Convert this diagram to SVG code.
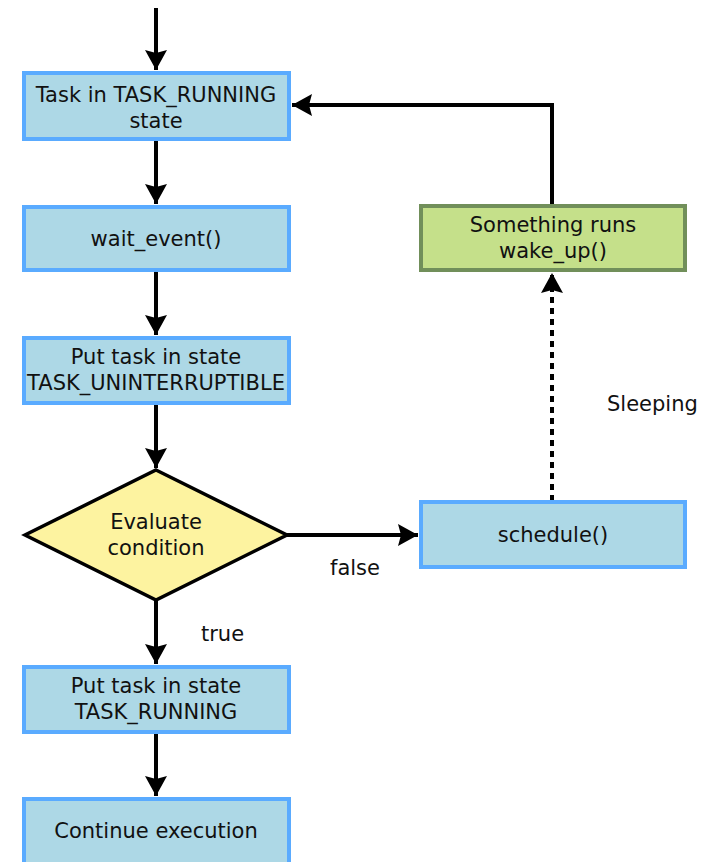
<svg xmlns="http://www.w3.org/2000/svg" width="708" height="862" viewBox="0 0 708 862">
<defs>
<style>
.box{fill:#add8e6;stroke:#5aabff;stroke-width:4}
.green{fill:#c5e08a;stroke:#718f5a;stroke-width:4}
.dia{fill:#fdf3a0;stroke:#000;stroke-width:3.5}
text{font-family:"DejaVu Sans",sans-serif;font-size:21px;fill:#111;text-anchor:middle}
.lbl{text-anchor:start}
.c{fill:none;stroke:#000;stroke-width:4}
.d{stroke-dasharray:6,5}
</style>
<marker id="ah" viewBox="0 0 10 11" refX="10" refY="5.5" markerWidth="5" markerHeight="5.5" markerUnits="strokeWidth" orient="auto">
<path d="M0,0 L10,5.5 L0,11 L1.5,5.5 Z" fill="#000"/>
</marker>
</defs>
<rect width="708" height="862" fill="#fff"/>
<g id="connectors">
<path class="c" d="M156,8 V70" marker-end="url(#ah)"/>
<path class="c" d="M156,140 V204" marker-end="url(#ah)"/>
<path class="c" d="M156,271 V335" marker-end="url(#ah)"/>
<path class="c" d="M156,404 V468" marker-end="url(#ah)"/>
<path class="c" d="M156,600 V664" marker-end="url(#ah)"/>
<path class="c" d="M156,733 V796" marker-end="url(#ah)"/>
<path class="c" d="M287,535 H418" marker-end="url(#ah)"/>
<path class="c d" d="M552,501 V273" marker-end="url(#ah)"/>
<path class="c" d="M552,205 V105 H292" marker-end="url(#ah)"/>
<text class="lbl" x="607" y="411">Sleeping</text>
<text class="lbl" x="330" y="575">false</text>
<text class="lbl" x="201" y="641">true</text>
</g>
<g id="n1"><rect class="box" x="24" y="73" width="265" height="66"/><text x="156" y="102">Task in TASK_RUNNING</text><text x="156" y="128">state</text></g>
<g id="n2"><rect class="box" x="24" y="207" width="265" height="63"/><text x="156" y="246">wait_event()</text></g>
<g id="n3"><rect class="box" x="24" y="338" width="265" height="65"/><text x="156" y="364">Put task in state</text><text x="156" y="390">TASK_UNINTERRUPTIBLE</text></g>
<g id="n4"><polygon class="dia" points="156,470 287,535 156,600 25,535"/><text x="156" y="529">Evaluate</text><text x="156" y="555">condition</text></g>
<g id="n5"><rect class="box" x="421" y="502" width="264" height="65"/><text x="553" y="542">schedule()</text></g>
<g id="n6"><rect class="green" x="421" y="206" width="264" height="64"/><text x="553" y="232">Something runs</text><text x="553" y="258">wake_up()</text></g>
<g id="n7"><rect class="box" x="24" y="667" width="265" height="65"/><text x="156" y="693">Put task in state</text><text x="156" y="719">TASK_RUNNING</text></g>
<g id="n8"><rect class="box" x="24" y="799" width="265" height="70"/><text x="156" y="838">Continue execution</text></g>
</svg>
